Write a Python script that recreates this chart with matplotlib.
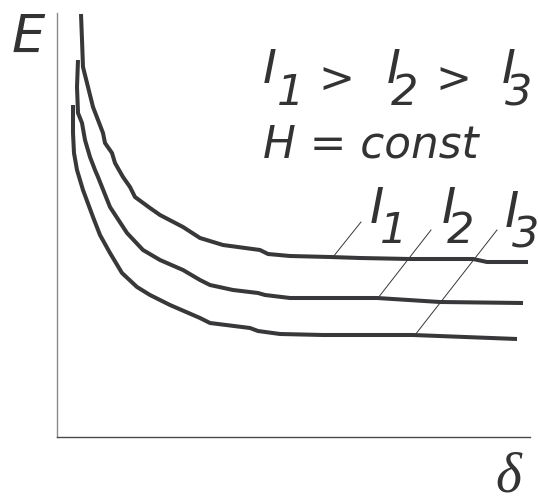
"""E versus delta for three currents at constant H"""

import matplotlib

matplotlib.use("Agg")
import matplotlib.pyplot as plt

# Curves in axis units (origin at the corner of the axes)
i1_x = [24, 25, 26, 31, 36, 41, 46, 48, 55, 58, 66, 73, 78, 93, 103, 126, 143, 166, 203, 211, 233, 273, 303, 353, 416, 430, 471]
i1_y = [423, 397, 370, 350, 330, 317, 304, 294, 284, 274, 260, 250, 240, 229, 222, 210, 199, 192, 187, 183, 181, 180, 179, 178, 178, 175, 175]

i2_x = [21, 20, 21, 25, 28, 33, 38, 41, 45, 53, 70, 86, 103, 126, 143, 153, 176, 201, 208, 233, 260, 320, 383, 466]
i2_y = [377, 350, 324, 314, 297, 280, 267, 260, 250, 230, 204, 187, 177, 167, 157, 152, 147, 144, 142, 139, 139, 139, 135, 134]

i3_x = [16, 16, 17, 20, 26, 36, 43, 53, 65, 80, 93, 113, 143, 153, 193, 201, 223, 266, 356, 460]
i3_y = [332, 304, 284, 267, 247, 220, 202, 184, 164, 150, 142, 132, 119, 114, 109, 106, 103, 102, 102, 98]

# Leader lines from each curve to its label
leaders = {
    "1": ([276, 304], [180, 215]),
    "2": ([321, 374], [139, 207]),
    "3": ([358, 440], [102, 207]),
}
# label anchor (x, baseline y) and subscript x offset
curve_labels = {"1": (313, 214, 10), "2": (385, 214, 5), "3": (448, 210, 7)}
header_labels = {"1": (206, 14), "2": (330, 4), "3": (445, 3)}

ink = "#38383a"

fig = plt.figure(figsize=(5.38, 4.97), dpi=100)
ax = fig.add_axes([57 / 538, 60 / 497, 473 / 538, 437 / 497])
ax.set_xlim(0, 473)
ax.set_ylim(0, 437)
ax.set_xticks([])
ax.set_yticks([])
for side in ["top", "right"]:
    ax.spines[side].set_visible(False)
ax.spines["left"].set_bounds(0, 424)
ax.spines["left"].set_color("#8a8a8a")
ax.spines["left"].set_linewidth(1.0)
ax.spines["bottom"].set_color("#4a4a4a")
ax.spines["bottom"].set_linewidth(1.0)

for xs, ys in [(i1_x, i1_y), (i2_x, i2_y), (i3_x, i3_y)]:
    ax.plot(xs, ys, color=ink, linewidth=2.9, solid_joinstyle="round",
            solid_capstyle="butt", clip_on=False)

for key, (lx, ly) in leaders.items():
    ax.plot(lx, ly, color=ink, linewidth=0.7)

txt = dict(color="#333333", style="italic", family="DejaVu Sans", ha="left", va="baseline")

# Curve labels I1, I2, I3
for key, (tx, ty, dx) in curve_labels.items():
    ax.text(tx, ty, "I", fontsize=35, **txt)
    ax.text(tx + dx, ty - 20, key, fontsize=31, **txt)

# Header: I1 > I2 > I3, H = const
for key, (x0, dx) in header_labels.items():
    ax.text(x0, 354, "I", fontsize=34, **txt)
    ax.text(x0 + dx, 332, key, fontsize=31, **txt)
for x0 in [261, 378]:
    ax.text(x0, 357, ">", fontsize=31, color="#333333", style="italic",
            family="DejaVu Sans", ha="left", va="center")
ax.text(206, 280, "H = const", fontsize=31.5, **txt)

# Axis labels
ax.text(-45, 384, "E", fontsize=38, **txt)
ax.text(438, -55, "δ", fontsize=40, color="#333333", style="italic",
        family="Liberation Serif", ha="left", va="baseline")

fig.savefig("out.png", dpi=100)
plt.close(fig)
